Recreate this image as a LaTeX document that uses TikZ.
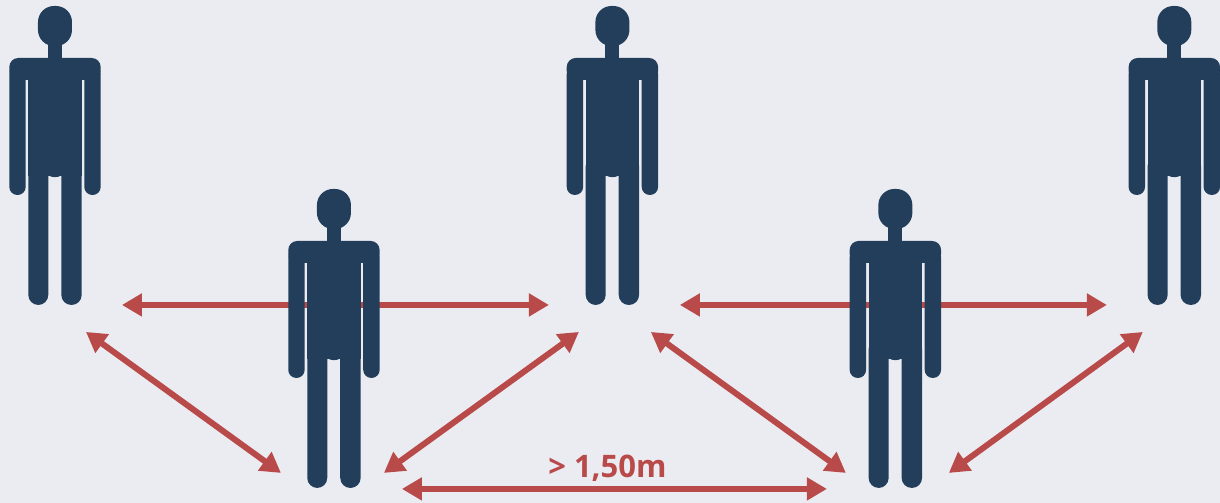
\documentclass[tikz,border=0pt]{standalone}
\usepackage{fontspec}
\setsansfont{Open Sans}
\usetikzlibrary{arrows.meta}
\definecolor{bgcol}{HTML}{EBECF2}
\definecolor{navy}{HTML}{233E5A}
\definecolor{dist}{HTML}{B94A4A}
\tikzstyle{gap}=[draw=dist,
                line width=6pt,
                {Triangle[length=20pt,width=22pt]}-{Triangle[length=20pt,width=22pt]}]
\tikzset{
  person/.pic={
    \fill[navy,rounded corners=16pt] (-17,0) rectangle (17,40);
    \fill[navy] (-7,30) rectangle (7,60);
    \fill[navy,rounded corners=9pt] (-45.7,52) rectangle (45.7,74);
    \fill[navy,rounded corners=8pt] (-45.7,60) rectangle (-29.3,189);
    \fill[navy,rounded corners=8pt] (29.3,60) rectangle (45.7,189);
    \fill[navy] (-26.7,60) rectangle (26.7,170);
    \fill[navy] (-7,169) .. controls (-3,172) and (3,172) .. (7,169) -- cycle;
    \fill[navy,rounded corners=10pt] (-26.7,150) rectangle (-6.7,299);
    \fill[navy,rounded corners=10pt] (6.3,150) rectangle (26.7,299);
  }
}

\begin{document}
\begin{tikzpicture}[x=1pt,y=-1pt]

\fill[bgcol] (0,0) rectangle (1220,503);

% arrow ends
\coordinate (h1a) at (122,305);
\coordinate (h1b) at (549,305);
\coordinate (h2a) at (680,305);
\coordinate (h2b) at (1107,305);
\coordinate (h3a) at (402,489);
\coordinate (h3b) at (827,489);
\coordinate (d1a) at (86,332);
\coordinate (d1b) at (281,473);
\coordinate (d2a) at (579,332);
\coordinate (d2b) at (384,473);
\coordinate (d3a) at (651,332);
\coordinate (d3b) at (846,473);
\coordinate (d4a) at (1143,332);
\coordinate (d4b) at (949,473);

% distances
\draw[gap] (h1a) -- (h1b);
\draw[gap] (h2a) -- (h2b);
\draw[gap] (h3a) -- (h3b);
\draw[gap] (d1a) -- (d1b);
\draw[gap] (d2a) -- (d2b);
\draw[gap] (d3a) -- (d3b);
\draw[gap] (d4a) -- (d4b);

% people
\pic at (55,6) {person};
\pic at (334,189) {person};
\pic at (612.5,6) {person};
\pic at (895.5,189) {person};
\pic at (1174.5,6) {person};

% label
\node[text=dist,font=\sffamily\bfseries\fontsize{31}{34}\selectfont,inner sep=0pt] (lbl) at (607.5,468) {> 1,50m};

\end{tikzpicture}
\end{document}
